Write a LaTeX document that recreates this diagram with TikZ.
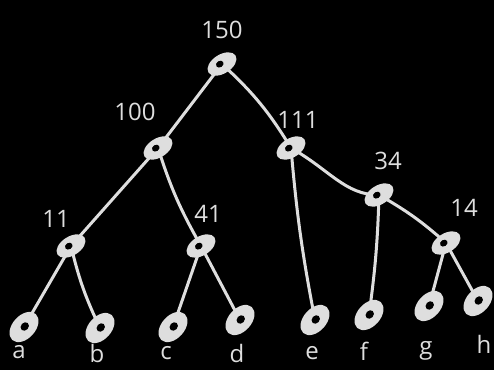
\documentclass[tikz,border=0pt]{standalone}
\usepackage{fontspec}
\setmainfont{Open Sans}
\usetikzlibrary{shapes.geometric}
\definecolor{chalk}{HTML}{DEDEDE}
\tikzset{
  inner/.style={ellipse, fill=chalk, minimum width=32pt, minimum height=19pt,
    inner sep=0pt, rotate=32,
    path picture={\fill[black] ([xshift=-2pt,yshift=1pt]path picture bounding box.center) ellipse (4pt and 3.2pt);}},
  leaf/.style={ellipse, fill=chalk, minimum width=35pt, minimum height=23pt,
    inner sep=0pt, rotate=48,
    path picture={\fill[black] ([yshift=-1pt]path picture bounding box.center) ellipse (4.6pt and 3.8pt);}},
  lbl/.style={text=chalk, font=\fontsize{24}{24}\selectfont, inner sep=0pt},
  edge/.style={draw=chalk, line width=3pt, line cap=round}
}
\begin{document}
\begin{tikzpicture}[x=1pt,y=-1pt]
\fill[black] (0,0) rectangle (494,370);
\useasboundingbox (0,0) rectangle (494,370);

% node centres
\coordinate (c150) at (222,64);
\coordinate (c100) at (158,148);
\coordinate (c111) at (291,148);
\coordinate (c11)  at (71,246);
\coordinate (c41)  at (201,246);
\coordinate (c34)  at (379,195);
\coordinate (c14)  at (446,243);
\coordinate (ca) at (24,327);
\coordinate (cb) at (100,328);
\coordinate (cc) at (173,327);
\coordinate (cd) at (240,320);
\coordinate (ce) at (315,320);
\coordinate (cf) at (369,315);
\coordinate (cg) at (429,306);
\coordinate (ch) at (478,301);

% edges, drawn first so the nodes sit on top
\draw[edge] (c150) -- (c100);
\draw[edge] (c150) to[bend left=8] (c111);
\draw[edge] (c100) -- (c11);
\draw[edge] (c100) to[bend right=6] (c41);
\draw[edge] (c11) -- (ca);
\draw[edge] (c11) to[bend right=6] (cb);
\draw[edge] (c41) -- (cc);
\draw[edge] (c41) -- (cd);
\draw[edge] (c111) to[bend right=3] (ce);
\draw[edge] (c111) .. controls (330,170) and (345,195) .. (c34);
\draw[edge] (c34) to[bend left=3] (cf);
\draw[edge] (c34) to[bend left=6] (c14);
\draw[edge] (c14) -- (cg);
\draw[edge] (c14) -- (ch);

% internal nodes
\node[inner] (n150) at (c150) {};
\node[inner] (n100) at (c100) {};
\node[inner] (n111) at (c111) {};
\node[inner] (n11)  at (c11) {};
\node[inner] (n41)  at (c41) {};
\node[inner] (n34)  at (c34) {};
\node[inner] (n14)  at (c14) {};

% leaves
\node[leaf] (la) at (ca) {};
\node[leaf] (lb) at (cb) {};
\node[leaf] (lc) at (cc) {};
\node[leaf] (ld) at (cd) {};
\node[leaf] (le) at (ce) {};
\node[leaf] (lf) at (cf) {};
\node[leaf] (lg) at (cg) {};
\node[leaf] (lh) at (ch) {};

% labels
\node[lbl] (t150) at (222,30) {150};
\node[lbl] (t100) at (135,112) {100};
\node[lbl] (t111) at (298,120) {111};
\node[lbl] (t11)  at (56,219) {11};
\node[lbl] (t41)  at (208,214) {41};
\node[lbl] (t34)  at (388,161) {34};
\node[lbl] (t14)  at (464,208) {14};
\node[lbl] (ta) at (19,352) {a};
\node[lbl] (tb) at (97,353) {b};
\node[lbl] (tc) at (166,353) {c};
\node[lbl] (td) at (237,353) {d};
\node[lbl] (te) at (312,353) {e};
\node[lbl] (tf) at (364,351) {f};
\node[lbl] (tg) at (426,351) {g};
\node[lbl] (th) at (484,344) {h};
\end{tikzpicture}
\end{document}
